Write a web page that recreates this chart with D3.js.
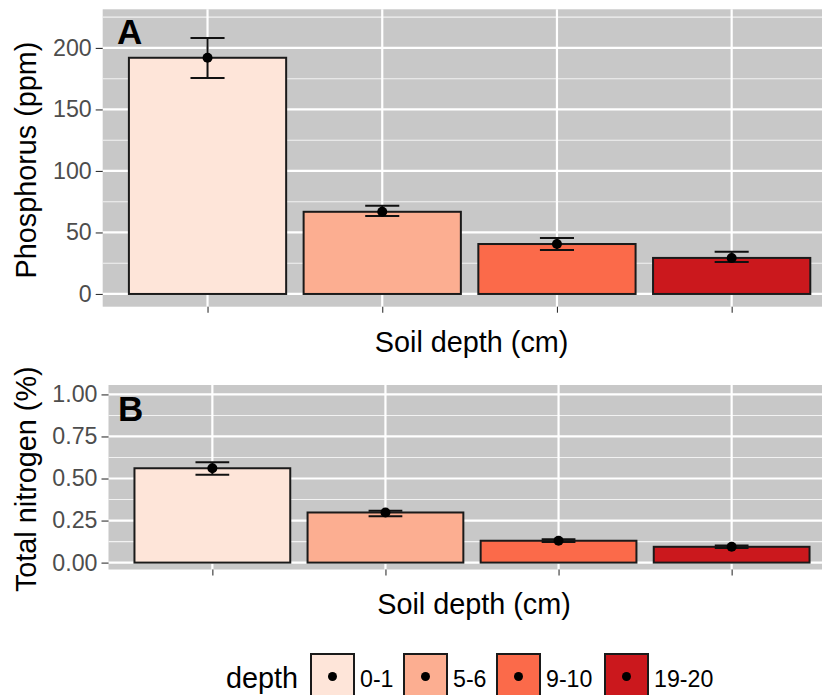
<!DOCTYPE html>
<html><head><meta charset="utf-8">
<script src="https://cdn.jsdelivr.net/npm/d3@7"></script>
<style>
html,body{margin:0;padding:0;background:#fff;}
svg{display:block;font-family:"Liberation Sans",Arial,sans-serif;}
</style></head>
<body><svg id="chart" width="822" height="695"></svg>
<script>
// ---- data ----
const depths = ["0-1", "5-6", "9-10", "19-20"];
const fillColors = ["#fee5d9", "#fcae91", "#fb6a4a", "#cb181d"];
const phosMean = [192.0, 66.8, 40.6, 29.3];
const phosLow  = [175.6, 63.4, 35.8, 26.0];
const phosHigh = [208.0, 71.8, 45.5, 34.4];
const nitroMean = [0.561, 0.298, 0.130, 0.094];
const nitroLow  = [0.523, 0.275, 0.122, 0.087];
const nitroHigh = [0.596, 0.309, 0.139, 0.101];
const phosTicks = [0, 50, 100, 150, 200];
const phosMinor = [25, 75, 125, 175, 225];
const nitroTicks = [0, 0.25, 0.5, 0.75, 1.0];
const nitroMinor = [0.125, 0.375, 0.625, 0.875];

const svg = d3.select("#chart");
const color = d3.scaleOrdinal().domain(depths).range(fillColors);

function panel(cfg) {
  const x = d3.scalePoint().domain(depths).range([cfg.left, cfg.right]).padding(0.6);
  const y = d3.scaleLinear().domain(cfg.domain).range([cfg.bottom, cfg.top]);
  const step = x.step();
  const bw = step * 0.9;
  const g = svg.append("g");
  g.append("rect").attr("x", cfg.left).attr("y", cfg.top)
    .attr("width", cfg.right - cfg.left).attr("height", cfg.bottom - cfg.top)
    .attr("fill", "#c8c8c8");
  // minor grid
  g.selectAll(".minor").data(cfg.minor).enter().append("line")
    .attr("x1", cfg.left).attr("x2", cfg.right)
    .attr("y1", d => y(d)).attr("y2", d => y(d))
    .attr("stroke", "#f2f2f2").attr("stroke-width", 1.1);
  // major grid
  g.selectAll(".major").data(cfg.ticks).enter().append("line")
    .attr("x1", cfg.left).attr("x2", cfg.right)
    .attr("y1", d => y(d)).attr("y2", d => y(d))
    .attr("stroke", "#ffffff").attr("stroke-width", 2.2);
  g.selectAll(".vmajor").data(depths).enter().append("line")
    .attr("x1", d => x(d)).attr("x2", d => x(d))
    .attr("y1", cfg.top).attr("y2", cfg.bottom)
    .attr("stroke", "#ffffff").attr("stroke-width", 2.2);
  // bars
  g.selectAll(".bar").data(depths).enter().append("rect")
    .attr("x", d => x(d) - bw / 2).attr("width", bw)
    .attr("y", (d, i) => y(cfg.mean[i]))
    .attr("height", (d, i) => y(0) - y(cfg.mean[i]))
    .attr("fill", d => color(d)).attr("stroke", "#1a1a1a").attr("stroke-width", 2);
  // error bars
  const cw = step * 0.195;
  depths.forEach((d, i) => {
    const cx = x(d);
    g.append("line").attr("x1", cx).attr("x2", cx)
      .attr("y1", y(cfg.low[i])).attr("y2", y(cfg.high[i]))
      .attr("stroke", "#111").attr("stroke-width", 2);
    [cfg.low[i], cfg.high[i]].forEach(v => {
      g.append("line").attr("x1", cx - cw / 2).attr("x2", cx + cw / 2)
        .attr("y1", y(v)).attr("y2", y(v))
        .attr("stroke", "#111").attr("stroke-width", 2);
    });
    g.append("circle").attr("cx", cx).attr("cy", y(cfg.mean[i])).attr("r", 5).attr("fill", "#000");
  });
  // y axis
  const ya = d3.axisLeft(y).tickValues(cfg.ticks).tickSize(7).tickPadding(4).tickFormat(cfg.fmt);
  const yg = svg.append("g").attr("transform", `translate(${cfg.left},0)`).call(ya);
  yg.select(".domain").remove();
  yg.selectAll(".tick line").attr("stroke", "#333").attr("stroke-width", 1.1);
  yg.selectAll(".tick text").attr("fill", "#4d4d4d").style("font-size", "23.2px")
    .style("font-family", "'Liberation Sans',Arial,sans-serif");
  // x axis (ticks only)
  const xa = d3.axisBottom(x).tickSize(6).tickFormat("");
  const xg = svg.append("g").attr("transform", `translate(0,${cfg.bottom})`).call(xa);
  xg.select(".domain").remove();
  xg.selectAll(".tick line").attr("stroke", "#333").attr("stroke-width", 1.1);
  // titles
  svg.append("text").attr("x", (cfg.left + cfg.right) / 2 + 2).attr("y", cfg.xTitleY)
    .attr("text-anchor", "middle").style("font-size", "28.8px").attr("fill", "#000")
    .text("Soil depth (cm)");
  svg.append("text").attr("transform", `translate(${cfg.yTitleX},${(cfg.top + cfg.bottom) / 2 + 2}) rotate(-90)`)
    .attr("text-anchor", "middle").style("font-size", "28.8px").attr("fill", "#000")
    .text(cfg.yTitle);
  svg.append("text").attr("x", cfg.tagX).attr("y", cfg.tagY)
    .style("font-size", "35px").style("font-weight", "bold").attr("fill", "#000")
    .text(cfg.tag);
}

panel({left: 102.7, right: 836.5, top: 9.3, bottom: 306.7, domain: [-10.35, 231.4],
  ticks: phosTicks, minor: phosMinor, mean: phosMean, low: phosLow, high: phosHigh,
  fmt: d3.format("d"), xTitleY: 351.7, yTitleX: 36, yTitle: "Phosphorus (ppm)",
  tag: "A", tagX: 117, tagY: 44.3});
panel({left: 108.5, right: 835.5, top: 385, bottom: 569.5, domain: [-0.041, 1.056],
  ticks: nitroTicks, minor: nitroMinor, mean: nitroMean, low: nitroLow, high: nitroHigh,
  fmt: d3.format(".2f"), xTitleY: 613.5, yTitleX: 36, yTitle: "Total nitrogen (%)",
  tag: "B", tagX: 118, tagY: 420.7});

// legend
const leg = svg.append("g");
leg.append("text").attr("x", 226).attr("y", 687.7).style("font-size", "28.8px").attr("fill", "#000").text("depth");
const keyX = [311, 404, 497, 605];
depths.forEach((d, i) => {
  leg.append("rect").attr("x", keyX[i]).attr("y", 654).attr("width", 43).attr("height", 43)
    .attr("fill", color(d)).attr("stroke", "#1a1a1a").attr("stroke-width", 2);
  leg.append("circle").attr("cx", keyX[i] + 21.5).attr("cy", 676.5).attr("r", 4.5).attr("fill", "#000");
  leg.append("text").attr("x", keyX[i] + 49).attr("y", 686.5).style("font-size", "23.2px").attr("fill", "#000").text(d);
});
</script></body></html>
